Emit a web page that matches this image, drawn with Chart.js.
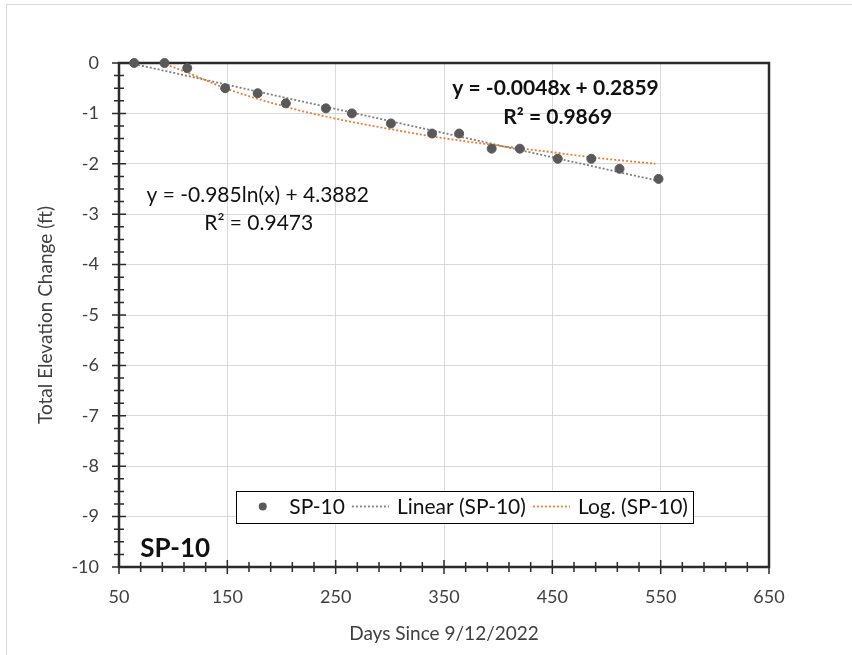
<!DOCTYPE html>
<html>
<head>
<meta charset="utf-8">
<script src="https://cdn.jsdelivr.net/npm/chart.js@4.4.1/dist/chart.umd.min.js"></script>
<style>
  html, body { margin: 0; padding: 0; background: #fff; }
  #wrap { width: 852px; height: 655px; position: relative; }
</style>
</head>
<body>
<div id="wrap"><canvas id="chart" width="852" height="655"></canvas></div>
<script>
// survey readings for SP-10
const days = [64, 92, 113, 148, 178, 204, 241, 265, 301, 339, 364, 394, 420, 455, 486, 512, 548]
const elevation = [0, 0, -0.1, -0.5, -0.6, -0.8, -0.9, -1.0, -1.2, -1.4, -1.4, -1.7, -1.7, -1.9, -1.9, -2.1, -2.3]

// trendlines
const linearDays = [64, 548]
const linearValues = [-0.02, -2.34]
const logDays = [90, 113, 148, 178, 204, 226, 265, 300, 340, 400, 450, 486, 545]
const logValues = [0, -0.19, -0.5, -0.71, -0.87, -0.99, -1.17, -1.31, -1.46, -1.64, -1.77, -1.87, -2.0]

const xTicks = [50, 150, 250, 350, 450, 550, 650]
const yTicks = [-10, -9, -8, -7, -6, -5, -4, -3, -2, -1, 0]
const xMinorStep = 20
const yMinorStep = 0.25

const linearLabel = ['y = -0.0048x + 0.2859', 'R² = 0.9869']
const logLabel = ['y = -0.985ln(x) + 4.3882', 'R² = 0.9473']
const seriesTitle = 'SP-10'

const FONT = 'Lato, "Noto Sans", sans-serif'
const INK = '#404040'

const toPoints = (xs, ys) => xs.map((x, i) => ({ x: x, y: ys[i] }))

const frame = {
  id: 'frame',
  beforeDraw(chart) {
    // light outer border of the chart object
    const ctx = chart.ctx
    ctx.save()
    ctx.strokeStyle = '#d9d9d9'
    ctx.lineWidth = 1
    ctx.beginPath()
    ctx.moveTo(6.5, chart.height)
    ctx.lineTo(6.5, 4.5)
    ctx.lineTo(chart.width, 4.5)
    ctx.stroke()
    ctx.restore()
  },
  beforeDatasetsDraw(chart) {
    const { ctx, chartArea: a, scales: { x, y } } = chart
    ctx.save()
    ctx.strokeStyle = '#2b2b2b'
    ctx.lineWidth = 1.5
    ctx.beginPath()
    const nx = Math.round((x.max - x.min) / xMinorStep)
    for (let i = 0; i <= nx; i++) {
      const v = x.min + i * xMinorStep
      const px = x.getPixelForValue(v)
      const h = xTicks.includes(v) ? 7 : 5
      ctx.moveTo(px, a.bottom - h)
      ctx.lineTo(px, a.bottom + h)
    }
    const ny = Math.round((y.max - y.min) / yMinorStep)
    for (let i = 0; i <= ny; i++) {
      const v = y.min + i * yMinorStep
      const py = y.getPixelForValue(v)
      const w = yTicks.includes(v) ? 7 : 5
      ctx.moveTo(a.left - w, py)
      ctx.lineTo(a.left + w, py)
    }
    ctx.stroke()
    ctx.lineWidth = 2.5
    ctx.strokeRect(a.left, a.top, a.right - a.left, a.bottom - a.top)
    ctx.restore()
  },
  afterDatasetsDraw(chart) {
    const { ctx, scales: { x, y } } = chart
    const sets = chart.data.datasets
    ctx.save()
    ctx.fillStyle = '#111'
    ctx.textAlign = 'center'
    ctx.textBaseline = 'middle'

    // trendline equations
    ctx.font = 'bold 21px ' + FONT
    ctx.fillText(linearLabel[0], x.getPixelForValue(453), y.getPixelForValue(-0.5))
    ctx.fillText(linearLabel[1], x.getPixelForValue(455), y.getPixelForValue(-1.07))
    ctx.font = '21px ' + FONT
    ctx.fillText(logLabel[0], x.getPixelForValue(178), y.getPixelForValue(-2.62))
    ctx.fillText(logLabel[1], x.getPixelForValue(179), y.getPixelForValue(-3.17))

    // series name in the corner
    ctx.font = 'bold 26px ' + FONT
    ctx.textAlign = 'left'
    ctx.fillText(seriesTitle, x.getPixelForValue(69.5), y.getPixelForValue(-9.64))

    // legend box
    ctx.font = '21px ' + FONT
    const sym = 37, gap = 8, itemGap = 7, padL = 8, padR = 5
    const widths = sets.map(d => ctx.measureText(d.label).width)
    const total = padL + widths.reduce((s, w) => s + sym + gap + w, 0) + itemGap * (sets.length - 1) + padR
    const cx = x.getPixelForValue(369)
    const cy = y.getPixelForValue(-8.8)
    const left = cx - total / 2
    ctx.fillStyle = '#fff'
    ctx.fillRect(left, cy - 16, total, 32)
    ctx.strokeStyle = '#000'
    ctx.lineWidth = 1
    ctx.strokeRect(Math.round(left) + 0.5, Math.round(cy - 16) + 0.5, Math.round(total), 32)
    let px = left + padL
    sets.forEach((d, i) => {
      if (d.type === 'scatter') {
        ctx.fillStyle = d.backgroundColor
        ctx.beginPath()
        ctx.arc(px + sym / 2, cy, 4, 0, Math.PI * 2)
        ctx.fill()
      } else {
        ctx.strokeStyle = d.borderColor
        ctx.lineWidth = d.borderWidth
        ctx.setLineDash(d.borderDash)
        ctx.beginPath()
        ctx.moveTo(px, cy)
        ctx.lineTo(px + sym, cy)
        ctx.stroke()
        ctx.setLineDash([])
      }
      px += sym + gap
      ctx.fillStyle = '#111'
      ctx.textAlign = 'left'
      ctx.fillText(d.label, px, cy + 1)
      px += widths[i] + itemGap
    })
    ctx.restore()
  }
}

new Chart(document.getElementById('chart'), {
  type: 'scatter',
  data: {
    datasets: [
      {
        type: 'scatter',
        label: 'SP-10',
        data: toPoints(days, elevation),
        backgroundColor: '#595959',
        borderColor: '#595959',
        pointRadius: 4.5,
        clip: 8,
        order: 0
      },
      {
        type: 'line',
        label: 'Linear (SP-10)',
        data: toPoints(linearDays, linearValues),
        borderColor: '#7f7f7f',
        borderWidth: 1.8,
        borderDash: [2, 2],
        pointRadius: 0,
        fill: false,
        order: 2
      },
      {
        type: 'line',
        label: 'Log. (SP-10)',
        data: toPoints(logDays, logValues),
        borderColor: '#ed7d31',
        borderWidth: 1.8,
        borderDash: [2, 2],
        pointRadius: 0,
        cubicInterpolationMode: 'monotone',
        fill: false,
        order: 1
      }
    ]
  },
  options: {
    responsive: false,
    animation: false,
    layout: { padding: { top: 63, right: 83, left: 0, bottom: 0 } },
    plugins: {
      legend: { display: false },
      tooltip: { enabled: false },
      title: { display: false }
    },
    scales: {
      x: {
        type: 'linear',
        min: 50,
        max: 650,
        afterBuildTicks: scale => { scale.ticks = xTicks.map(v => ({ value: v })) },
        afterFit: scale => { scale.height = 88 },
        ticks: { color: INK, font: { family: FONT, size: 18 }, padding: 19, maxRotation: 0 },
        grid: { color: '#d9d9d9', lineWidth: 1, drawTicks: false },
        border: { display: false },
        title: {
          display: true,
          text: 'Days Since 9/12/2022',
          color: INK,
          font: { family: FONT, size: 19 },
          padding: { bottom: 10 }
        }
      },
      y: {
        type: 'linear',
        min: -10,
        max: 0,
        afterBuildTicks: scale => { scale.ticks = yTicks.map(v => ({ value: v })) },
        afterFit: scale => { scale.width = 119 },
        ticks: { color: INK, font: { family: FONT, size: 18 }, padding: 20 },
        grid: { color: '#d9d9d9', lineWidth: 1, drawTicks: false },
        border: { display: false },
        title: {
          display: true,
          text: 'Total Elevation Change (ft)',
          color: INK,
          font: { family: FONT, size: 19 },
          padding: { top: 34 }
        }
      }
    }
  },
  plugins: [frame]
})
</script>
</body>
</html>
